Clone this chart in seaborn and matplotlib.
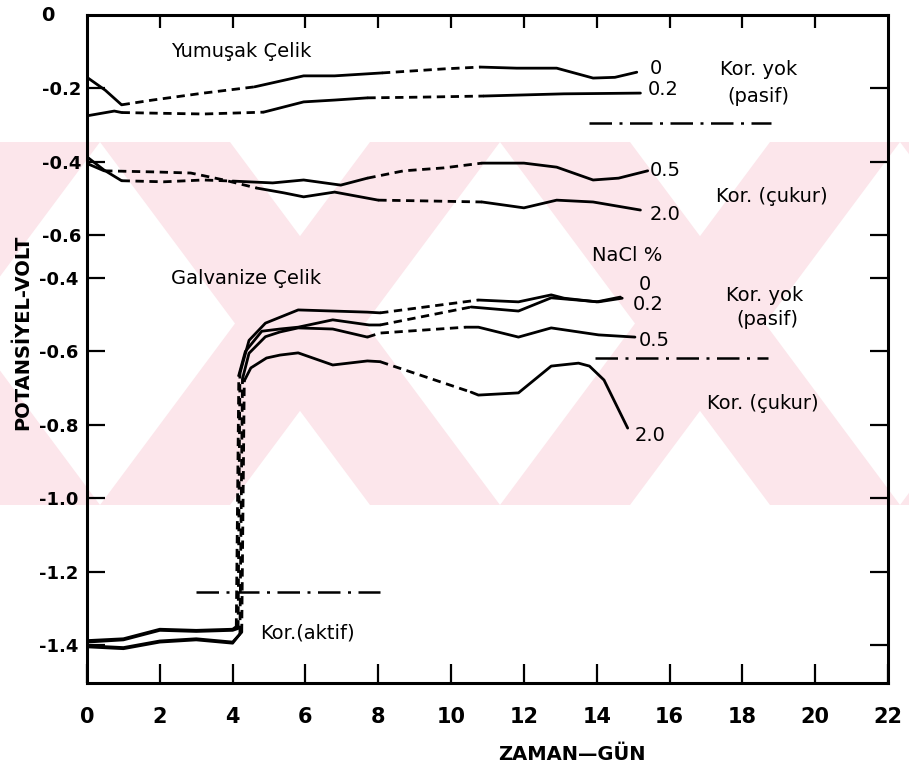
import matplotlib
matplotlib.use("Agg")
import matplotlib.pyplot as plt
import matplotlib.transforms as mtransforms
from matplotlib.patches import Polygon
import pandas as pd
import seaborn as sns

# ---- values: time (days) and potential (V) ----
# Yumusak celik, upper scale
ys0_days = [0, 0.5, 0.95, 1.8, 3.2, 4.6, 5.95, 6.8, 8.1, 9.8, 10.8, 11.8, 12.9, 13.9, 14.5, 15.1]
ys0_vals = [-0.17, -0.205, -0.245, -0.232, -0.213, -0.196, -0.166, -0.166, -0.158, -0.147,
            -0.142, -0.145, -0.145, -0.172, -0.170, -0.156]
ys0_dashed = [(0.95, 4.6), (8.1, 10.8)]

ys02_days = [0, 0.75, 0.95, 2.0, 3.2, 4.85, 5.95, 6.8, 7.7, 9.2, 10.9, 12.0, 13.1, 14.2, 15.2]
ys02_vals = [-0.275, -0.262, -0.266, -0.268, -0.270, -0.265, -0.237, -0.232, -0.226, -0.224,
             -0.221, -0.218, -0.215, -0.214, -0.213]
ys02_dashed = [(0.95, 4.85), (7.7, 10.9)]

ys05_days = [0, 0.47, 0.95, 2.1, 3.2, 4.0, 5.1, 5.95, 6.97, 7.7, 8.7, 9.8, 10.85, 12.0,
             12.9, 13.9, 14.6, 15.4]
ys05_vals = [-0.387, -0.423, -0.452, -0.455, -0.450, -0.453, -0.458, -0.450, -0.464, -0.445,
             -0.425, -0.417, -0.404, -0.404, -0.415, -0.450, -0.445, -0.425]
ys05_dashed = [(0.95, 4.0), (7.7, 10.85)]

ys20_days = [0, 0.47, 1.84, 2.85, 3.76, 4.66, 5.4, 5.95, 6.8, 8.0, 9.25, 10.85, 12.0, 12.9,
             13.9, 15.2]
ys20_vals = [-0.405, -0.425, -0.428, -0.431, -0.450, -0.472, -0.485, -0.496, -0.483, -0.505,
             -0.507, -0.510, -0.526, -0.505, -0.510, -0.532]
ys20_dashed = [(0.47, 4.66), (8.0, 10.85)]

# Galvanize celik, lower scale
gv0_days = [0, 1, 2, 3, 4.0, 4.15, 4.2, 4.45, 4.9, 5.8, 6.75, 7.7, 8.05, 10.75, 11.85,
            12.75, 13.1, 14.0, 14.65]
gv0_vals = [-1.392, -1.386, -1.360, -1.363, -1.360, -1.355, -0.66, -0.57, -0.523, -0.487,
            -0.490, -0.493, -0.495, -0.460, -0.465, -0.446, -0.455, -0.465, -0.452]
gv0_dashed = [(4.15, 4.2), (8.05, 10.75)]

gv02_days = [0, 1, 2, 3, 4.0, 4.1, 4.17, 4.35, 4.8, 5.3, 5.8, 6.75, 7.75, 8.05, 10.55,
             11.85, 12.75, 14.05, 14.7]
gv02_vals = [-1.388, -1.383, -1.357, -1.360, -1.357, -1.350, -0.665, -0.60, -0.545, -0.539,
             -0.534, -0.514, -0.528, -0.528, -0.479, -0.490, -0.454, -0.465, -0.455]
gv02_dashed = [(4.1, 4.17), (8.05, 10.55)]

gv05_days = [0, 1, 2, 3, 4.0, 4.2, 4.27, 4.45, 4.9, 5.3, 5.8, 6.75, 7.7, 8.05, 10.4, 10.75,
             11.85, 12.75, 14.05, 15.05]
gv05_vals = [-1.405, -1.410, -1.392, -1.386, -1.395, -1.370, -0.675, -0.605, -0.560, -0.547,
             -0.536, -0.539, -0.561, -0.550, -0.534, -0.534, -0.561, -0.536, -0.555, -0.561]
gv05_dashed = [(4.2, 4.27), (7.7, 10.4)]

gv20_days = [0, 1, 2, 3, 4.0, 4.25, 4.32, 4.5, 4.93, 5.3, 5.8, 6.75, 7.7, 8.05, 10.55, 10.75,
             11.85, 12.75, 13.5, 13.8, 14.2, 14.85]
gv20_vals = [-1.402, -1.407, -1.389, -1.383, -1.392, -1.365, -0.680, -0.645, -0.618, -0.610,
             -0.604, -0.637, -0.626, -0.628, -0.711, -0.719, -0.713, -0.640, -0.632, -0.640,
             -0.678, -0.809]
gv20_dashed = [(4.25, 4.32), (8.05, 10.55)]

# dash-dot limit lines: (start day, end day, potential)
upper_limit = (13.8, 18.8, -0.295)
galv_limit = (13.95, 18.7, -0.618)
active_limit = (3.0, 8.05, -1.256)

day_ticks = list(range(0, 23, 2))
upper_ticks = [-0.2, -0.4, -0.6]
upper_ticklabels = ["-0.2", "-0.4", "-0.6"]
lower_ticks = [-0.4, -0.6, -0.8, -1.0, -1.2, -1.4]
lower_ticklabels = ["-0.4", "-0.6", "-0.8", "-1.0", "-1.2", "-1.4"]

DASH = (0, (3, 2))
DASHDOT = (0, (9, 3, 1.2, 3))


def draw_curve(ax, days, vals, dashed):
    df = pd.DataFrame({"day": days, "volt": vals})
    runs = []
    for i in range(len(days) - 1):
        mid = (days[i] + days[i + 1]) / 2
        is_dash = any(a <= mid <= b for a, b in dashed)
        if runs and runs[-1][0] == is_dash:
            runs[-1][2] = i + 1
        else:
            runs.append([is_dash, i, i + 1])
    for is_dash, i0, i1 in runs:
        sns.lineplot(data=df.iloc[i0:i1 + 1], x="day", y="volt", ax=ax, sort=False,
                     estimator=None, color="black", linewidth=2.0,
                     linestyle=DASH if is_dash else "-")


def draw_limit(ax, limit):
    d0, d1, v = limit
    df = pd.DataFrame({"day": [d0, d1], "volt": [v, v]})
    sns.lineplot(data=df, x="day", y="volt", ax=ax, estimator=None, color="black",
                 linewidth=1.8, linestyle=DASHDOT)


sns.set_theme(style="white")
plt.rcParams["font.family"] = ["DejaVu Sans"]
plt.rcParams["text.color"] = "black"

W, H = 909, 770
fig = plt.figure(figsize=(W / 100, H / 100), dpi=100)
fig.patch.set_facecolor("white")


def px(x, y):
    return (x / W, 1 - y / H)


# faint red watermark band behind the chart
band_top, band_bot = 142, 505
for c in [-100, 300, 700, 1100]:
    h, w = 200, 130
    for pts in ([(c - h, band_top), (c - h + w, band_top), (c + h, band_bot), (c + h - w, band_bot)],
                [(c + h - w, band_top), (c + h, band_top), (c - h + w, band_bot), (c - h, band_bot)]):
        fig.add_artist(Polygon([px(*p) for p in pts], closed=True, transform=fig.transFigure,
                               facecolor="#fce6eb", edgecolor="none", zorder=-5))

rect = [87 / W, 1 - 683 / H, 801 / W, 668 / H]
ax_up = fig.add_axes(rect, facecolor="none")
ax_lo = fig.add_axes(rect, facecolor="none")

for days, vals, dashed in [(ys0_days, ys0_vals, ys0_dashed), (ys02_days, ys02_vals, ys02_dashed),
                           (ys05_days, ys05_vals, ys05_dashed), (ys20_days, ys20_vals, ys20_dashed)]:
    draw_curve(ax_up, days, vals, dashed)
draw_limit(ax_up, upper_limit)

for days, vals, dashed in [(gv0_days, gv0_vals, gv0_dashed), (gv02_days, gv02_vals, gv02_dashed),
                           (gv05_days, gv05_vals, gv05_dashed), (gv20_days, gv20_vals, gv20_dashed)]:
    draw_curve(ax_lo, days, vals, dashed)
draw_limit(ax_lo, galv_limit)
draw_limit(ax_lo, active_limit)

ax_up.set_xlim(0, 22)
ax_lo.set_xlim(0, 22)
ax_up.set_ylim(-1.822, 0)
ax_lo.set_ylim(-1.5035, 0.3166)

for ax in (ax_up, ax_lo):
    ax.set_xlabel("")
    ax.set_ylabel("")
    ax.grid(False)

for sp in ax_up.spines.values():
    sp.set_color("black")
    sp.set_linewidth(2.2)
for sp in ax_lo.spines.values():
    sp.set_visible(False)

tick_font = dict(fontsize=13, fontweight="bold", color="black")
ax_up.set_xticks(day_ticks)
ax_up.set_xticklabels([str(d) for d in day_ticks], fontsize=15, fontweight="bold", color="black")
ax_up.set_yticks(upper_ticks)
ax_up.set_yticklabels(upper_ticklabels, **tick_font)
ax_up.tick_params(axis="x", direction="in", bottom=True, top=False, length=14, width=1.6,
                  pad=17, colors="black")
ax_up.tick_params(axis="y", direction="in", left=True, right=True, length=13, width=1.6,
                  pad=4, colors="black")

ax_lo.set_xticks(day_ticks[1:-1])
ax_lo.set_yticks(lower_ticks)
ax_lo.set_yticklabels(lower_ticklabels, **tick_font)
ax_lo.tick_params(axis="x", direction="in", bottom=False, top=True, labelbottom=False,
                  labeltop=False, length=9, width=1.6, colors="black")
ax_lo.tick_params(axis="y", direction="in", left=True, right=True, length=13, width=1.6,
                  pad=6, colors="black")

blend_up = mtransforms.blended_transform_factory(ax_up.transAxes, ax_up.transData)
ax_up.text(-0.049, 0, "0", transform=blend_up, ha="center", va="center", fontsize=14,
           fontweight="bold", color="black")

lab = dict(fontsize=14, color="black")
# upper annotations
ax_up.text(2.3, -0.10, "Yumuşak Çelik", ha="left", va="center", **lab)
ax_up.text(15.45, -0.145, "0", ha="left", va="center", **lab)
ax_up.text(15.4, -0.202, "0.2", ha="left", va="center", **lab)
ax_up.text(18.45, -0.150, "Kor. yok", ha="center", va="center", **lab)
ax_up.text(18.45, -0.221, "(pasif)", ha="center", va="center", **lab)
ax_up.text(15.45, -0.425, "0.5", ha="left", va="center", **lab)
ax_up.text(18.8, -0.496, "Kor. (çukur)", ha="center", va="center", **lab)
ax_up.text(15.45, -0.545, "2.0", ha="left", va="center", **lab)

# lower annotations
ax_lo.text(14.85, -0.340, "NaCl %", ha="center", va="center", **lab)
ax_lo.text(2.3, -0.400, "Galvanize Çelik", ha="left", va="center", **lab)
ax_lo.text(15.15, -0.419, "0", ha="left", va="center", **lab)
ax_lo.text(15.0, -0.471, "0.2", ha="left", va="center", **lab)
ax_lo.text(18.6, -0.449, "Kor. yok", ha="center", va="center", **lab)
ax_lo.text(18.7, -0.512, "(pasif)", ha="center", va="center", **lab)
ax_lo.text(15.15, -0.569, "0.5", ha="left", va="center", **lab)
ax_lo.text(18.55, -0.741, "Kor. (çukur)", ha="center", va="center", **lab)
ax_lo.text(15.05, -0.828, "2.0", ha="left", va="center", **lab)
ax_lo.text(4.75, -1.367, "Kor.(aktif)", ha="left", va="center", **lab)

fig.text(23 / W, 1 - 332 / H, "POTANSİYEL-VOLT", rotation=90, ha="center", va="center",
         fontsize=14, fontweight="bold", color="black")
fig.text(572 / W, 1 - 755 / H, "ZAMAN—GÜN", ha="center", va="center",
         fontsize=14, fontweight="bold", color="black")

fig.savefig("out.png", dpi=100)
